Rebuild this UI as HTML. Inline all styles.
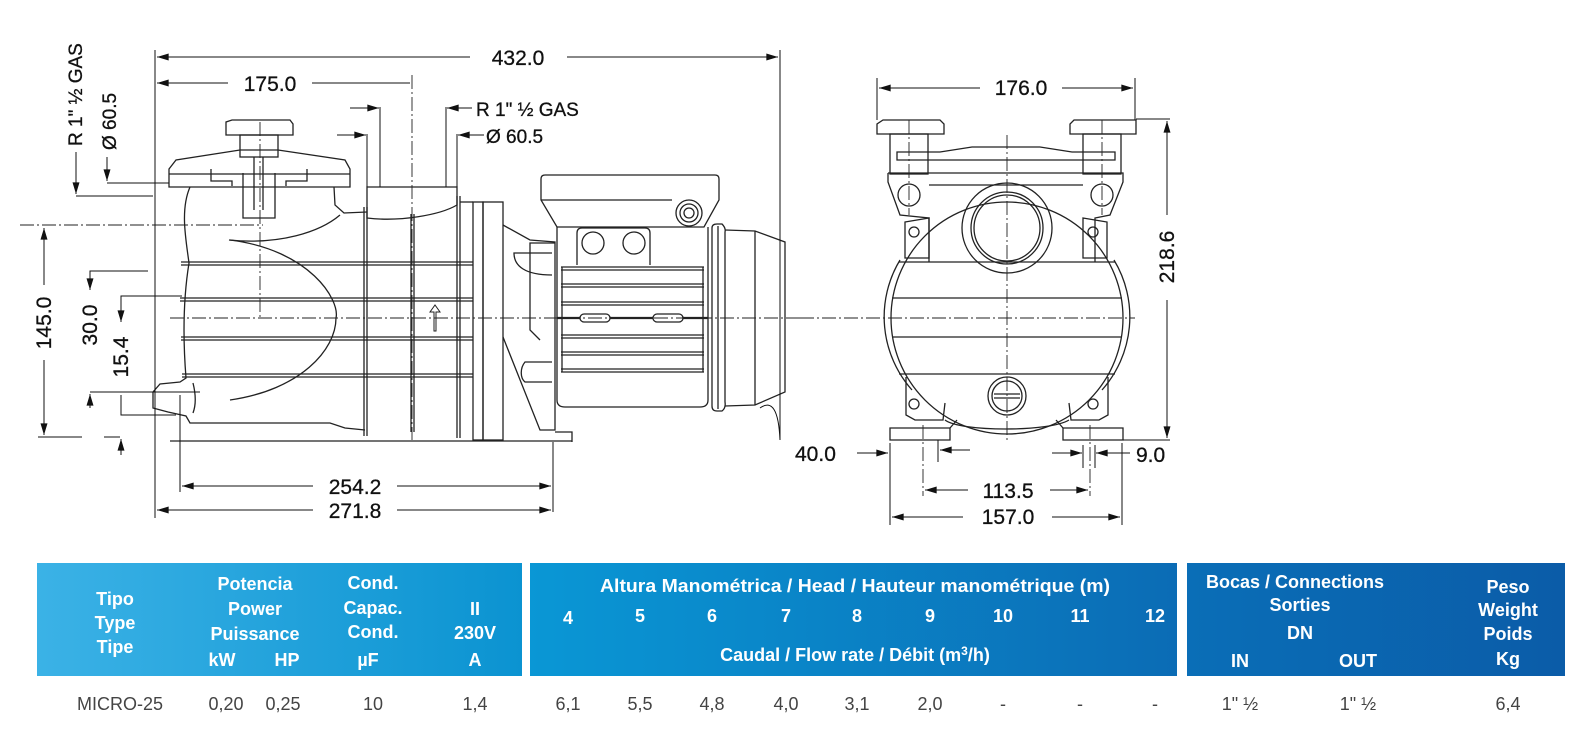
<!DOCTYPE html>
<html><head><meta charset="utf-8"><style>
html,body{margin:0;padding:0;background:#fff;}
body{width:1586px;height:739px;overflow:hidden;position:relative;}
svg{position:absolute;left:0;top:0;}
.t{font-family:"Liberation Sans Narrow","Liberation Sans",sans-serif;}
</style></head><body>
<svg width="1586" height="739" viewBox="0 0 1586 739" xmlns="http://www.w3.org/2000/svg">
<defs>
<marker id="a" viewBox="0 0 10 6" refX="10" refY="3" markerWidth="16" markerHeight="7" markerUnits="userSpaceOnUse" orient="auto-start-reverse"><path d="M0,0 L10,3 L0,6 Z" fill="#111"/></marker>
<linearGradient id="g1" x1="0" x2="1"><stop offset="0" stop-color="#3bb2e6"/><stop offset="1" stop-color="#0b93d1"/></linearGradient>
<linearGradient id="g2" x1="0" x2="1"><stop offset="0" stop-color="#0a97d5"/><stop offset="1" stop-color="#0b6cb5"/></linearGradient>
<linearGradient id="g3" x1="0" x2="1"><stop offset="0" stop-color="#0a6eb7"/><stop offset="1" stop-color="#0b5ca8"/></linearGradient>
</defs>

<g fill="none" stroke="#222" stroke-width="1.3">
 <path d="M226,135 L226,122 L232,120 L290,120 L293,124 L293,135 Z"/>
 <rect x="240" y="135" width="38" height="22"/>
 <path d="M169,169 L176,160 L240,150 L278,150 L345,160 L350,169 L350,187 L169,187 Z"/>
 <line x1="169" y1="174" x2="350" y2="174"/>
 <path d="M211,169 L211,181 L232,181 L232,186 M307,169 L307,181 L286,181 L286,186"/>
 <path d="M243,173 L243,218 L275,218 L275,173"/>
 <line x1="254" y1="157" x2="254" y2="210"/><line x1="263" y1="157" x2="263" y2="210"/>
 <path d="M190,187 C180,210 186,240 189,263 C183,300 183,340 186,378 L180,382 L160,384 L153,392 L153,408 L168,412 L186,416 L190,423 L330,423 L345,428 L365,430"/>
 <path d="M334,187 L335,205 L344,213 L367,212"/>
 <path d="M229,240 C280,245 320,232 340,215"/>
 <path d="M230,240 C310,250 340,300 336,318 C336,350 300,390 230,400"/>
 <path d="M193,383 C196,395 196,405 193,413"/>
 <path d="M367,187 L457,187 L457,205 C440,215 400,222 367,218 Z"/>
 <path d="M181,262 L473,262 M181,265 L473,265"/>
 <path d="M180,298 L473,298 M180,301 L473,301"/>
 <path d="M181,337 L473,337 M181,340 L473,340"/>
 <path d="M182,374 L473,374 M182,377 L473,377"/>
 <path d="M364,207 L364,436 M367,207 L367,436"/>
 <path d="M411,214 L411,432 M414,214 L414,432"/>
 <path d="M457,196 L457,438 M460,196 L460,438"/>
 <rect x="473" y="202" width="10" height="238"/>
 <rect x="483" y="202" width="20" height="238"/>
 <line x1="460" y1="202" x2="473" y2="202"/>
 <path d="M434,331 L434,312 L430,312 L435,305 L440,312 L436,312 L436,331 Z" stroke-width="1"/>
 <line x1="170" y1="441" x2="572" y2="441"/>
 <path d="M503,225 L530,240 L555,242 L555,430 L540,430 L503,337"/>
 <path d="M555,243 L530,243 L530,330 L540,340"/>
 <path d="M552,253 L514,253 C514,266 525,275 552,275"/>
 <path d="M552,362 L525,362 C520,368 520,378 525,382 L552,382"/>
 <path d="M555,432 L572,432 L572,442"/>
 <path d="M545,175 L715,175 Q719,175 719,179 L719,200 L704,227 L557,227 L541,200 L541,179 Q541,175 545,175 Z"/>
 <line x1="541" y1="200" x2="672" y2="200"/>
 <circle cx="689" cy="213" r="13"/><circle cx="689" cy="213" r="9"/><circle cx="689" cy="213" r="5"/>
 <path d="M577,265 L577,233 Q577,228 582,228 L645,228 Q650,228 650,233 L650,265"/>
 <circle cx="593" cy="243" r="11"/><circle cx="634" cy="243" r="11"/>
 <path d="M557,227 L557,400 Q557,407 565,407 L700,407 Q708,407 708,400 L708,227"/>
 <path d="M561,267 L704,267 M561,284 L704,284 M561,302 L704,302 M561,335 L704,335 M561,352 L704,352 M561,369 L704,369"/>
 <path d="M561,270 L704,270 M561,287 L704,287 M561,305 L704,305 M561,338 L704,338 M561,355 L704,355 M561,372 L704,372"/>
 <line x1="557" y1="318" x2="708" y2="318" stroke-width="2.2"/>
 <rect x="580" y="314" width="30" height="8" rx="4" fill="#fff"/>
 <rect x="653" y="314" width="30" height="8" rx="4" fill="#fff"/>
 <line x1="562" y1="267" x2="562" y2="372"/><line x1="703" y1="267" x2="703" y2="372"/>
 <path d="M712,228 Q712,224 717,224 L722,224 Q726,228 725,232 L725,402 Q726,408 722,411 L717,411 Q712,411 712,406 Z"/>
 <line x1="718" y1="226" x2="718" y2="409"/>
 <path d="M725,230 L755,231 L785,242 L785,392 L755,405 L725,406"/>
 <line x1="755" y1="231" x2="755" y2="405"/>
</g>
<g fill="none" stroke="#222" stroke-width="0.9" stroke-dasharray="14,3,2,3">
 <line x1="170" y1="318" x2="800" y2="318"/>
 <line x1="260" y1="122" x2="260" y2="318"/>
 <line x1="412" y1="75" x2="412" y2="440"/>
 <line x1="20" y1="225" x2="263" y2="225"/>
 <line x1="200" y1="262" x2="460" y2="262"/>
 <line x1="200" y1="298" x2="460" y2="298"/>
</g>
<g fill="none" stroke="#111" stroke-width="1">
 <line x1="155" y1="50" x2="155" y2="518"/>
 <path d="M780,50 L780,440 Q778,395 760,408"/>
 <line x1="157" y1="57" x2="470" y2="57" marker-start="url(#a)"/>
 <line x1="567" y1="57" x2="778" y2="57" marker-end="url(#a)"/>
 <line x1="157" y1="83" x2="228" y2="83" marker-start="url(#a)"/>
 <line x1="312" y1="83" x2="410" y2="83"/>
 <line x1="180" y1="395" x2="180" y2="492"/>
 <line x1="553" y1="442" x2="553" y2="512"/>
 <line x1="182" y1="486" x2="313" y2="486" marker-start="url(#a)"/>
 <line x1="397" y1="486" x2="551" y2="486" marker-end="url(#a)"/>
 <line x1="157" y1="510" x2="313" y2="510" marker-start="url(#a)"/>
 <line x1="397" y1="510" x2="551" y2="510" marker-end="url(#a)"/>
 <line x1="44" y1="228" x2="44" y2="285" marker-start="url(#a)"/>
 <line x1="44" y1="360" x2="44" y2="435" marker-end="url(#a)"/>
 <line x1="38" y1="437" x2="82" y2="437"/>
 <line x1="104" y1="437" x2="120" y2="437"/>
 <path d="M148,271 L90,271 L90,290" marker-end="url(#a)"/>
 <path d="M200,392 L90,392"/><line x1="90" y1="408" x2="90" y2="394" marker-end="url(#a)"/>
 <path d="M182,296 L121,296 L121,322" marker-end="url(#a)"/>
 <path d="M176,415 L121,415 L121,395"/>
 <line x1="121" y1="455" x2="121" y2="439" marker-end="url(#a)"/>
 <path d="M76,152 L76,194" marker-end="url(#a)"/><path d="M76,196 L153,196"/>
 <path d="M107,157 L107,181" marker-end="url(#a)"/><path d="M107,183 L169,183"/>
 <line x1="380" y1="107" x2="380" y2="187"/><line x1="446" y1="107" x2="446" y2="187"/>
 <line x1="350" y1="108" x2="379" y2="108" marker-end="url(#a)"/>
 <line x1="472" y1="108" x2="447" y2="108" marker-end="url(#a)"/>
 <line x1="367" y1="134" x2="367" y2="187"/><line x1="457" y1="134" x2="457" y2="187"/>
 <line x1="337" y1="135" x2="366" y2="135" marker-end="url(#a)"/>
 <line x1="484" y1="135" x2="458" y2="135" marker-end="url(#a)"/>
</g>
<g font-family="Liberation Sans, sans-serif" font-size="21" fill="#111" stroke="#111" stroke-width="0.3">
 <text x="518" y="65" text-anchor="middle">432.0</text>
 <text x="270" y="91" text-anchor="middle">175.0</text>
 <text x="355" y="494" text-anchor="middle">254.2</text>
 <text x="355" y="518" text-anchor="middle">271.8</text>
 <text x="476" y="116" font-size="19">R 1"  ½ GAS</text>
 <text x="486" y="143" font-size="19">Ø 60.5</text>
 <text transform="translate(82,146) rotate(-90)" font-size="19">R 1"  ½ GAS</text>
 <text transform="translate(116,150) rotate(-90)" font-size="19">Ø 60.5</text>
 <text transform="translate(51,323) rotate(-90)" text-anchor="middle">145.0</text>
 <text transform="translate(97,325) rotate(-90)" text-anchor="middle">30.0</text>
 <text transform="translate(128,357) rotate(-90)" text-anchor="middle">15.4</text>
</g>

<g fill="none" stroke="#222" stroke-width="1.3">
 <path d="M877,130 L877,124 L883,120 L940,120 L944,124 L944,134 L877,134 Z"/>
 <path d="M1070,130 L1070,124 L1074,120 L1136,120 L1136,134 L1070,134 Z"/>
 <rect x="890" y="134" width="38" height="40"/>
 <rect x="1083" y="134" width="38" height="40"/>
 <path d="M897,152 L897,160 L1115,160 L1115,152 L1072,152 L1040,147 L972,147 L940,152 Z"/>
 <path d="M888,173 L1123,173 L1123,182 L1110,215 L1095,218 L1095,262 M888,173 L888,182 L900,215 L929,218 L929,262"/>
 <line x1="929" y1="185" x2="1083" y2="185"/>
 <circle cx="909" cy="195" r="11"/><circle cx="1102" cy="195" r="11"/>
 <circle cx="1007" cy="228" r="45"/><circle cx="1007" cy="228" r="36"/><circle cx="1007" cy="228" r="33"/>
 <path d="M905,222 L929,218 L929,258 L905,258 Z"/>
 <path d="M1083,218 L1107,222 L1107,258 L1083,258 Z"/>
 <circle cx="1007" cy="318" r="116"/>
 <path d="M900,260 A110,110 0 0 0 912,390"/><path d="M1114,260 A110,110 0 0 1 1102,390"/>
 <path d="M899,262 L1115,262 M892,298 L1122,298 M892,337 L1122,337 M899,374 L1115,374"/>
 <path d="M906,377 L906,415 L915,420 L943,420 L945,403 M1108,377 L1108,415 L1099,420 L1071,420 L1069,403"/>
 <path d="M945,420 C960,432 1050,432 1069,420"/>
 <circle cx="1007" cy="396" r="19"/><circle cx="1007" cy="396" r="15"/>
 <line x1="994" y1="394" x2="1020" y2="394"/><line x1="994" y1="398" x2="1020" y2="398"/>
 <circle cx="914" cy="232" r="5"/><circle cx="1093" cy="232" r="5"/>
 <circle cx="914" cy="404" r="5"/><circle cx="1093" cy="404" r="5"/>
 <path d="M890,428 L950,428 L950,440 L890,440 Z"/>
 <path d="M1063,428 L1123,428 L1123,440 L1063,440 Z"/>
 <path d="M950,428 L957,420 M1063,428 L1056,420"/>
</g>
<g fill="none" stroke="#222" stroke-width="0.9" stroke-dasharray="14,3,2,3">
 <line x1="800" y1="318" x2="1135" y2="318"/>
 <line x1="1007" y1="135" x2="1007" y2="440"/>
 <line x1="909" y1="120" x2="909" y2="215"/><line x1="1102" y1="120" x2="1102" y2="215"/>
 <line x1="923" y1="425" x2="923" y2="496"/><line x1="1090" y1="425" x2="1090" y2="496"/>
</g>
<g fill="none" stroke="#111" stroke-width="1">
 <line x1="877" y1="78" x2="877" y2="120"/><line x1="1135" y1="78" x2="1135" y2="120"/>
 <line x1="879" y1="88" x2="980" y2="88" marker-start="url(#a)"/>
 <line x1="1062" y1="88" x2="1133" y2="88" marker-end="url(#a)"/>
 <line x1="1136" y1="119" x2="1170" y2="119"/><line x1="1123" y1="440" x2="1170" y2="440"/>
 <line x1="1167" y1="121" x2="1167" y2="215" marker-start="url(#a)"/>
 <line x1="1167" y1="300" x2="1167" y2="438" marker-end="url(#a)"/>
 <line x1="890" y1="443" x2="890" y2="525"/><line x1="1122" y1="443" x2="1122" y2="525"/>
 <line x1="938" y1="440" x2="938" y2="462"/>
 <line x1="857" y1="453" x2="888" y2="453" marker-end="url(#a)"/>
 <line x1="970" y1="450" x2="940" y2="450" marker-end="url(#a)"/>
 <line x1="1083" y1="445" x2="1083" y2="468"/><line x1="1095" y1="445" x2="1095" y2="468"/>
 <line x1="1052" y1="453" x2="1082" y2="453" marker-end="url(#a)"/>
 <line x1="1130" y1="453" x2="1096" y2="453" marker-end="url(#a)"/>
 <line x1="925" y1="490" x2="968" y2="490" marker-start="url(#a)"/>
 <line x1="1050" y1="490" x2="1088" y2="490" marker-end="url(#a)"/>
 <line x1="892" y1="517" x2="963" y2="517" marker-start="url(#a)"/>
 <line x1="1052" y1="517" x2="1120" y2="517" marker-end="url(#a)"/>
</g>
<g font-family="Liberation Sans, sans-serif" font-size="21" fill="#111" stroke="#111" stroke-width="0.3">
 <text x="1021" y="95" text-anchor="middle">176.0</text>
 <text transform="translate(1174,257) rotate(-90)" text-anchor="middle">218.6</text>
 <text x="795" y="461">40.0</text>
 <text x="1136" y="462">9.0</text>
 <text x="1008" y="498" text-anchor="middle">113.5</text>
 <text x="1008" y="524" text-anchor="middle">157.0</text>
</g>

<rect x="37" y="563" width="485" height="113" fill="url(#g1)"/>
<rect x="530" y="563" width="647" height="113" fill="url(#g2)"/>
<rect x="1187" y="563" width="378" height="113" fill="url(#g3)"/>
<g class="t" font-size="18" font-weight="bold" fill="#fff" text-anchor="middle">
 <text x="115" y="605">Tipo</text><text x="115" y="629">Type</text><text x="115" y="653">Tipe</text>
 <text x="255" y="590">Potencia</text><text x="255" y="615">Power</text><text x="255" y="640">Puissance</text>
 <text x="222" y="666">kW</text><text x="287" y="666">HP</text>
 <text x="373" y="589">Cond.</text><text x="373" y="614">Capac.</text><text x="373" y="638">Cond.</text><text x="368" y="666">µF</text>
 <text x="475" y="615">II</text><text x="475" y="639">230V</text><text x="475" y="666">A</text>
 <text x="855" y="592" textLength="510" lengthAdjust="spacingAndGlyphs">Altura Manométrica / Head / Hauteur manométrique (m)</text>
 <text x="568" y="624">4</text><text x="640" y="622">5</text><text x="712" y="622">6</text><text x="786" y="622">7</text><text x="857" y="622">8</text><text x="930" y="622">9</text><text x="1003" y="622">10</text><text x="1080" y="622">11</text><text x="1155" y="622">12</text>
 <text x="855" y="661">Caudal / Flow rate / Débit (m<tspan font-size="12" dy="-6">3</tspan><tspan dy="6">/h)</tspan></text>
 <text x="1295" y="588">Bocas / Connections</text><text x="1300" y="611">Sorties</text><text x="1300" y="639">DN</text>
 <text x="1240" y="667">IN</text><text x="1358" y="667">OUT</text>
 <text x="1508" y="593">Peso</text><text x="1508" y="616">Weight</text><text x="1508" y="640">Poids</text><text x="1508" y="665">Kg</text>
</g>
<g class="t" font-size="18" fill="#444" text-anchor="middle">
 <text x="120" y="710">MICRO-25</text><text x="226" y="710">0,20</text><text x="283" y="710">0,25</text><text x="373" y="710">10</text><text x="475" y="710">1,4</text>
 <text x="568" y="710">6,1</text><text x="640" y="710">5,5</text><text x="712" y="710">4,8</text><text x="786" y="710">4,0</text><text x="857" y="710">3,1</text><text x="930" y="710">2,0</text>
 <text x="1003" y="710">-</text><text x="1080" y="710">-</text><text x="1155" y="710">-</text>
 <text x="1240" y="710">1" ½</text><text x="1358" y="710">1" ½</text><text x="1508" y="710">6,4</text>
</g>
</svg>
</body></html>
